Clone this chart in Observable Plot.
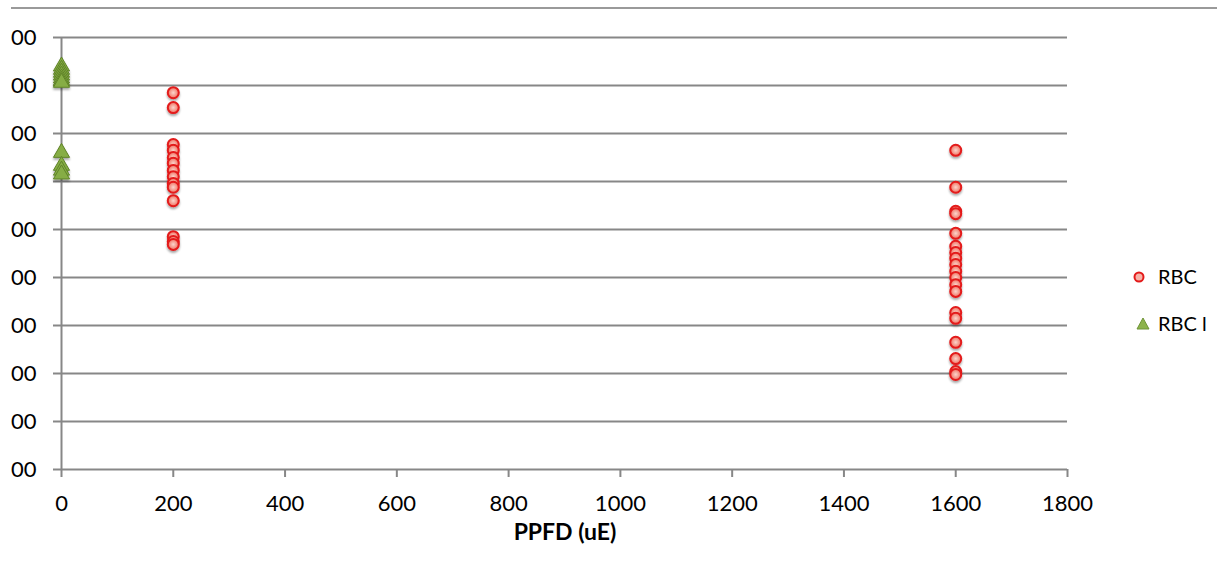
<!DOCTYPE html>
<html>
<head>
<meta charset="utf-8">
<script src="https://cdn.jsdelivr.net/npm/d3@7"></script>
<script src="https://cdn.jsdelivr.net/npm/@observablehq/plot@0.6"></script>
<style>
  html, body { margin: 0; padding: 0; background: #fff; overflow: hidden; }
  #wrap { position: relative; width: 1217px; height: 563px; font-family: Lato, "Open Sans", sans-serif; }
  #topline { position: absolute; left: 11px; right: 0; top: 7px; height: 2px; background: #9a9a9a; }
  .leg { position: absolute; font-size: 20px; color: #000; white-space: nowrap; }
  #xtitle { position: absolute; left: 0; width: 1130px; text-align: center; top: 517px; font-weight: bold; font-size: 23px; }
</style>
</head>
<body>
<div id="wrap">
  <div id="topline"></div>
  <div id="chart"></div>
  <div id="xtitle">PPFD (uE)</div>
  <svg class="leg" style="left:1130px;top:268px" width="18" height="18"><circle cx="9" cy="9" r="4.5" fill="#f7b3a8" stroke="#e31a1a" stroke-width="2"/></svg>
  <div class="leg" style="left:1158px;top:264px">RBC</div>
  <svg class="leg" style="left:1134px;top:315px" width="18" height="18"><path d="M9,3 L15,14 L3,14 Z" fill="#8db34c" stroke="#6f9436" stroke-width="1"/></svg>
  <div class="leg" style="left:1158px;top:311px">RBC l</div>
</div>
<script>
// Series: RBC (red circles)
const rbcPpfd200 = 200;
const rbcValues200 = [785, 754, 677, 665, 650, 638, 623, 610, 596, 588, 560, 485, 475, 469];
const rbcPpfd1600 = 1600;
const rbcValues1600 = [665, 588, 538, 533, 492, 465, 452, 440, 427, 413, 400, 385, 371, 327, 315, 265, 231, 204, 198];
// Series: RBC l (green triangles)
const rbclPpfd0 = 0;
const rbclValues0 = [840, 833, 827, 821, 815, 810, 806, 660, 633, 623, 615];
// Axis ticks
const xTicks = [0, 200, 400, 600, 800, 1000, 1200, 1400, 1600, 1800];
const yTicks = [0, 100, 200, 300, 400, 500, 600, 700, 800, 900];
const yTickLabel = "00";

const rbc = [
  ...rbcValues200.map(v => ({ppfd: rbcPpfd200, value: v})),
  ...rbcValues1600.map(v => ({ppfd: rbcPpfd1600, value: v}))
];
const rbcl = rbclValues0.map(v => ({ppfd: rbclPpfd0, value: v}));

const gridColor = "#878787";

const chart = Plot.plot({
  width: 1217,
  height: 563,
  marginLeft: 61,
  marginRight: 150,
  marginTop: 37,
  marginBottom: 94,
  style: {fontFamily: "Lato, 'Open Sans', sans-serif", fontSize: "22px", color: "#000", background: "transparent"},
  x: {domain: [0, 1800]},
  y: {domain: [0, 900]},
  marks: [
    Plot.gridY(yTicks, {stroke: gridColor, strokeOpacity: 1, strokeWidth: 2}),
    Plot.ruleX([0], {stroke: gridColor, strokeWidth: 2}),
    Plot.axisY(yTicks, {tickFormat: () => yTickLabel, tickSize: 8, tickPadding: 17, stroke: gridColor, strokeWidth: 2, fill: "#000", label: null, fontSize: 22}),
    Plot.axisX(xTicks, {tickFormat: d => String(d), tickSize: 8, tickPadding: 18, stroke: gridColor, strokeWidth: 2, fill: "#000", label: null, fontSize: 22}),
    Plot.dot(rbcl, {x: "ppfd", y: "value", symbol: "triangle", r: 6, fill: "#86ad44", stroke: "#5f8328", strokeWidth: 1}),
    Plot.dot(rbc, {x: "ppfd", y: "value", symbol: "circle", r: 5.5, fill: "url(#rg)", stroke: "#e31a1a", strokeWidth: 2})
  ]
});

const svg = d3.select(chart);
const defs = svg.insert("defs", ":first-child");
const rg = defs.append("radialGradient").attr("id", "rg");
rg.append("stop").attr("offset", "0%").attr("stop-color", "#fbd5cc");
rg.append("stop").attr("offset", "100%").attr("stop-color", "#f07060");
const f = defs.append("filter").attr("id", "sh").attr("x", "-50%").attr("y", "-50%").attr("width", "200%").attr("height", "200%");
f.append("feDropShadow").attr("dx", 0).attr("dy", 2).attr("stdDeviation", 1.2).attr("flood-color", "#000").attr("flood-opacity", 0.35);
svg.selectAll("g[aria-label='dot']").attr("filter", "url(#sh)");

document.getElementById("chart").appendChild(chart);
</script>
</body>
</html>
